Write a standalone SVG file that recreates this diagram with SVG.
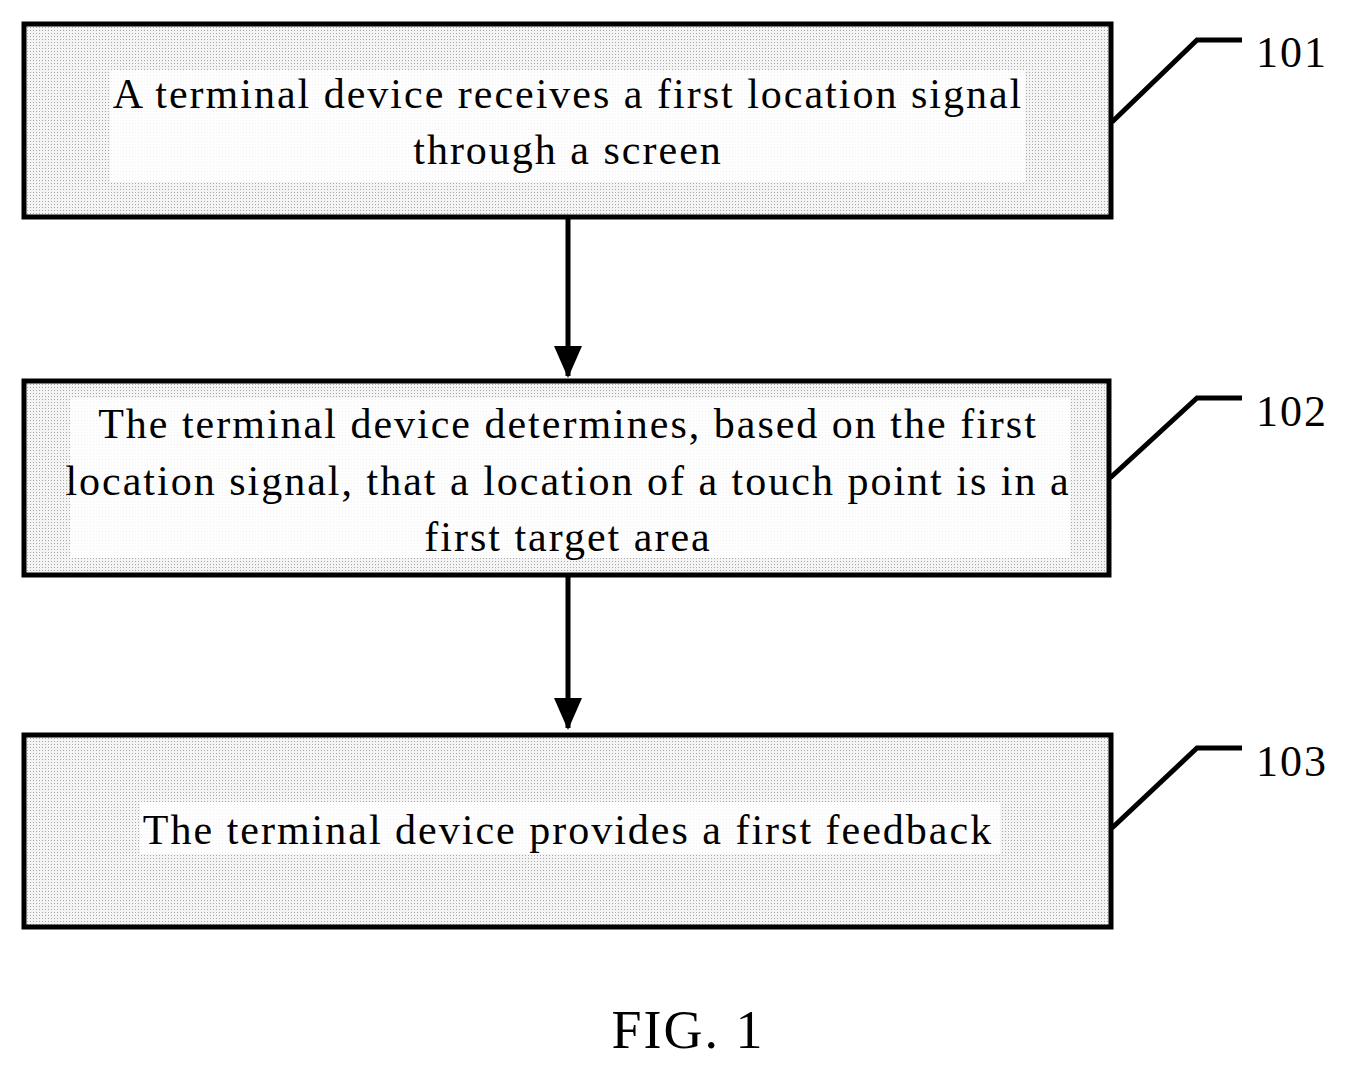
<svg xmlns="http://www.w3.org/2000/svg" width="1347" height="1068" viewBox="0 0 1347 1068">
<defs>
<pattern id="dots" width="3" height="3" patternUnits="userSpaceOnUse"><rect width="3" height="3" fill="#f4f4f4"/><rect width="1" height="1" fill="#a8a8a8"/></pattern>
<marker id="ah" markerWidth="32" markerHeight="28" refX="30" refY="14" orient="auto" markerUnits="userSpaceOnUse" viewBox="0 0 32 28"><path d="M0,0 L32,14 L0,28 Z" fill="#000"/></marker>
<style>
.box{fill:url(#dots);stroke:#000;stroke-width:5}
.bg{fill:#fff;opacity:0.85}
.t{font-family:"Liberation Serif",serif;font-size:42px;letter-spacing:2px;fill:#000;text-anchor:middle}
.n{font-family:"Liberation Serif",serif;font-size:44px;letter-spacing:2px;fill:#000}
.l{fill:none;stroke:#000;stroke-width:5}
</style>
</defs>
<g id="node101">
<rect class="box" x="24" y="24" width="1087" height="193"/>
<rect class="bg" x="110" y="70" width="915" height="112"/>
<text class="t" x="568" y="108">A terminal device receives a first location signal</text>
<text class="t" x="568" y="164">through a screen</text>
</g>
<g id="node102">
<rect class="box" x="24" y="381" width="1085" height="194"/>
<rect class="bg" x="70" y="398" width="1000" height="160"/>
<text class="t" x="568" y="438">The terminal device determines, based on the first</text>
<text class="t" x="568" y="495">location signal, that a location of a touch point is in a</text>
<text class="t" x="568" y="551">first target area</text>
</g>
<g id="node103">
<rect class="box" x="24" y="735" width="1087" height="192"/>
<rect class="bg" x="140" y="802" width="860" height="52"/>
<text class="t" x="568" y="844">The terminal device provides a first feedback</text>
</g>
<g id="connectors">
<line class="l" x1="568" y1="219" x2="568" y2="376" marker-end="url(#ah)"/>
<line class="l" x1="568" y1="577" x2="568" y2="728" marker-end="url(#ah)"/>
<polyline class="l" points="1112,122 1197,40 1242,40"/>
<polyline class="l" points="1110,478 1197,398 1242,398"/>
<polyline class="l" points="1112,828 1197,748 1242,748"/>
</g>
<g id="labels">
<text class="n" x="1256" y="67">101</text>
<text class="n" x="1256" y="426">102</text>
<text class="n" x="1256" y="776">103</text>
<text class="t" x="688" y="1048" style="font-size:54px">FIG. 1</text>
</g>
</svg>
